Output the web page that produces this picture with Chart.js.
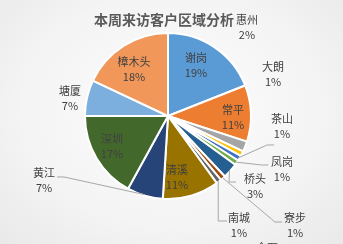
<!DOCTYPE html>
<html>
<head>
<meta charset="utf-8">
<script src="https://cdn.jsdelivr.net/npm/chart.js@4"></script>
<style>
  html, body { margin: 0; padding: 0; }
  body {
    width: 343px; height: 244px; overflow: hidden;
    background: radial-gradient(ellipse at 50% 45%, #fdfdfd 0%, #f4f4f4 60%, #e9e9e9 100%);
  }
  canvas { display: block; }
</style>
</head>
<body>
<canvas id="pie" width="343" height="244"></canvas>
<script>
// --- DATA ---
const regions = ['谢岗', '常平', '惠州', '大朗', '茶山', '凤岗', '桥头', '寮步', '南城', '清溪', '黄江', '深圳', '塘厦', '樟木头'];
const shares  = [19, 11, 2, 1, 1, 1, 3, 1, 1, 11, 7, 17, 7, 18];
const chartTitle = '本周来访客户区域分析';
const strayLabel = '企石'; // cut off at the bottom edge of the picture

// Office palette
const sliceColors = ['#5b9bd5', '#ed7d31', '#a5a5a5', '#ffc000', '#4472c4', '#70ad47',
                     '#255e91', '#9e480e', '#636363', '#997300', '#264478', '#43682b',
                     '#7cafdd', '#f1975a'];

// label spots, relative to pie centre, in radius units
const labelSpots = [
  [0.333, -0.601], [0.774, 0.018], [0.94, -1.054], [1.25, -0.494], [1.357, 0.119],
  [1.357, 0.637], [1.036, 0.833], [1.512, 1.304], [0.845, 1.304], [0.107, 0.726],
  [-1.476, 0.768], [-0.667, 0.363], [-1.167, -0.214], [-0.405, -0.560]
];
// leader lines: index -> {at: attach point (radius units), bend: 'h' | 'v'}
const leaders = {
  4:  { at: [1.264, 0.345], bend: 'h' },
  5:  { at: [1.195, 0.583], bend: 'h' },
  6:  { at: [0.81, 0.786], bend: 'h' },
  7:  { at: [1.357, 1.262], bend: 'h' },
  8:  { at: [0.702, 1.25], bend: 'v' },
  10: { at: [-1.321, 0.726], bend: 'h' }
};

const labelPlugin = {
  id: 'sliceLabels',
  afterDatasetsDraw(chart) {
    const ctx = chart.ctx;
    const arcs = chart.getDatasetMeta(0).data;
    const cx = arcs[0].x, cy = arcs[0].y, r = arcs[0].outerRadius + 1;
    ctx.save();

    // leader lines
    ctx.strokeStyle = '#a6a6a6';
    ctx.lineWidth = 1;
    Object.keys(leaders).forEach(k => {
      const a = arcs[k];
      const mid = (a.startAngle + a.endAngle) / 2;
      const px = cx + Math.cos(mid) * (r - 2), py = cy + Math.sin(mid) * (r - 2);
      const ax = cx + leaders[k].at[0] * r, ay = cy + leaders[k].at[1] * r;
      let ex, ey;
      if (leaders[k].bend === 'v') { ex = px; ey = ay; }
      else { ex = ax + (ax > px ? -7 : 7); ey = ay; }
      ctx.beginPath();
      ctx.moveTo(px, py);
      ctx.lineTo(ex, ey);
      ctx.lineTo(ax, ay);
      ctx.stroke();
    });

    // labels
    ctx.fillStyle = '#404040';
    ctx.font = '11px "Noto Sans CJK SC"';
    ctx.textAlign = 'center';
    ctx.textBaseline = 'middle';
    regions.forEach((name, i) => {
      const x = cx + labelSpots[i][0] * r, y = cy + labelSpots[i][1] * r;
      ctx.fillText(name, x, y - 7.5);
      ctx.fillText(shares[i] + '%', x, y + 7.5);
    });
    ctx.fillText(strayLabel, cx + 1.18 * r, cy + 1.57 * r);

    // title
    ctx.fillStyle = '#595959';
    ctx.font = 'bold 14px "Noto Sans CJK SC"';
    ctx.fillText(chartTitle, 164, 20);
    ctx.restore();
  }
};

new Chart(document.getElementById('pie'), {
  type: 'pie',
  data: {
    labels: regions,
    datasets: [{
      data: shares,
      backgroundColor: sliceColors,
      borderColor: '#ffffff',
      borderWidth: 2
    }]
  },
  options: {
    responsive: false,
    animation: false,
    layout: { padding: { left: 84, right: 91, top: 32, bottom: 44 } },
    plugins: {
      legend: { display: false },
      tooltip: { enabled: false },
      title: { display: false }
    }
  },
  plugins: [labelPlugin]
});
</script>
</body>
</html>
